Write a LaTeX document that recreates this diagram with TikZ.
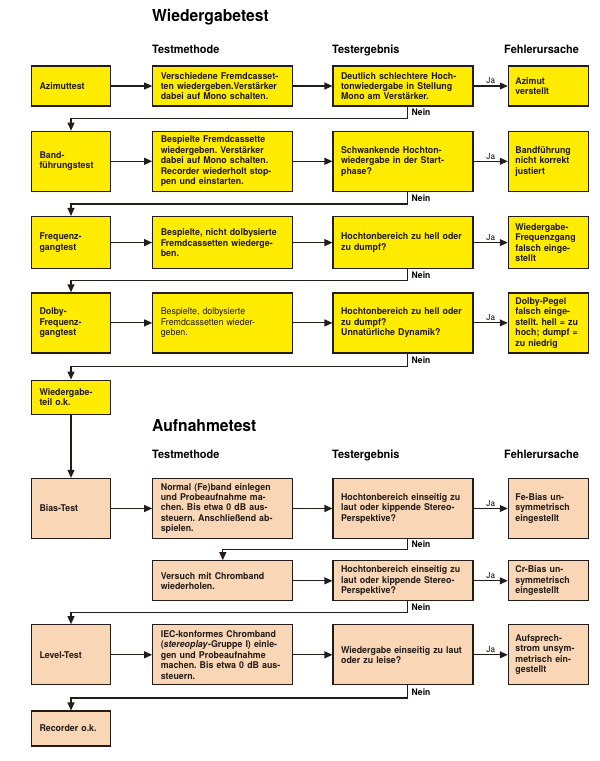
\documentclass[tikz,border=0pt]{standalone}
\usepackage{fontspec}
\setmainfont[FakeStretch=0.95]{TeX Gyre Heros}
\usetikzlibrary{arrows.meta, calc, positioning}
\definecolor{gelb}{RGB}{255,236,0}
\definecolor{pfirsich}{RGB}{248,214,182}
\definecolor{rand}{RGB}{35,28,24}
\frenchspacing
\tikzset {
    box/.style = {
        draw=rand,
        line width=1.3pt,
        shape = rectangle,
        align=left,
        inner xsep=8pt,
        inner ysep=2pt,
        text=rand,
        font={\bfseries\fontsize{9.3}{10.4}\selectfont}
    },
    test/.style = {box, text width=63pt},     % 79 wide
    method/.style = {box, text width=124pt},  % 140 wide
    result/.style = {box, text width=124pt},
    cause/.style = {box, inner xsep=7pt, text width=66pt},    % 80 wide
    wg/.style = {fill=gelb},
    af/.style = {fill=pfirsich},
    titel/.style = {
        anchor=base west,
        inner sep=0pt,
        font={\bfseries\fontsize{16.5}{19}\selectfont}
    },
    kopf/.style = {
        anchor=base west,
        inner sep=0pt,
        font={\bfseries\fontsize{11.5}{13}\selectfont}
    },
    ja/.style = {
        above,
        inner sep=1.5pt,
        font={\fontsize{8.5}{9}\selectfont}
    },
    nein/.style = {
        pos=0.25,
        right,
        inner sep=4pt,
        font={\bfseries\fontsize{9}{10}\selectfont}
    },
    conn/.style = {
        draw=rand,
        line width=1.1pt,
        -{Triangle[length=8pt,width=7pt]}
    }
}

\begin{document}
\begin{tikzpicture}[x=1pt, y=-1pt]
        \useasboundingbox (0,0) rectangle (600,761);

        % Titles and column heads
        \node [titel] at (152,21)                                   (titelwg)  {Wiedergabetest};
        \node [kopf]  at (152,53)                                   (kopf11)   {Testmethode};
        \node [kopf]  at (332,53)                                   (kopf12)   {Testergebnis};
        \node [kopf]  at (504,53)                                   (kopf13)   {Fehlerursache};

        % First row : Azimut
        \node [test, wg, minimum height=40pt] at (71,86)            (azimut)   {Azimuttest};
        \node [method, wg, minimum height=40pt, right=41pt of azimut] (meth1)  {Verschiedene Fremdcasset-\\ten wiedergeben.Verstärker\\dabei auf Mono schalten.};
        \node [result, wg, minimum height=40pt, right=39pt of meth1]  (res1)   {Deutlich schlechtere Hoch-\\tonwiedergabe in Stellung\\Mono am Verstärker.};
        \node [cause, wg, minimum height=40pt, right=34pt of res1]    (cause1) {Azimut\\verstellt};

        % Second row : Bandfuehrung
        \node [test, wg, minimum height=60pt, below=24pt of azimut]   (band)   {Band-\\führungstest};
        \node [method, wg, minimum height=60pt, right=41pt of band]   (meth2)  {Bespielte Fremdcassette\\wiedergeben. Verstärker\\dabei auf Mono schalten.\\Recorder wiederholt stop-\\pen und einstarten.};
        \node [result, wg, minimum height=60pt, right=39pt of meth2]  (res2)   {Schwankende Hochton-\\wiedergabe in der Start-\\phase?};
        \node [cause, wg, minimum height=60pt, right=34pt of res2]    (cause2) {Bandführung\\nicht korrekt\\justiert};

        % Third row : Frequenzgang
        \node [test, wg, minimum height=52pt, below=24pt of band]     (freq)   {Frequenz-\\gangtest};
        \node [method, wg, minimum height=52pt, right=41pt of freq]   (meth3)  {Bespielte, nicht dolbysierte\\Fremdcassetten wiederge-\\ben.};
        \node [result, wg, minimum height=52pt, right=39pt of meth3]  (res3)   {Hochtonbereich zu hell oder\\zu dumpf?};
        \node [cause, wg, minimum height=52pt, right=34pt of res3]    (cause3) {Wiedergabe-\\Frequenzgang\\falsch einge-\\stellt};

        % Fourth row : Dolby
        \node [test, wg, minimum height=60pt, below=23pt of freq]     (dolby)  {Dolby-\\Frequenz-\\gangtest};
        \node [method, wg, minimum height=60pt, right=41pt of dolby]  (meth4)  {\mdseries Bespielte, dolbysierte\\Fremdcassetten wieder-\\geben.};
        \node [result, wg, minimum height=60pt, right=39pt of meth4]  (res4)   {Hochtonbereich zu hell oder\\zu dumpf?\\Unnatürliche Dynamik?};
        \node [cause, wg, minimum height=60pt, right=34pt of res4]    (cause4) {Dolby-Pegel\\falsch einge-\\stellt. hell = zu\\hoch; dumpf =\\zu niedrig};

        \node [test, wg, minimum height=34pt, below=26pt of dolby]    (wok)    {Wiedergabe-\\teil o.k.};

        % Second part : Aufnahme
        \node [titel] at (152,431)                                  (titelaf)  {Aufnahmetest};
        \node [kopf]  at (152,458)                                  (kopf21)   {Testmethode};
        \node [kopf]  at (332,458)                                  (kopf22)   {Testergebnis};
        \node [kopf]  at (504,458)                                  (kopf23)   {Fehlerursache};

        \node [test, af, minimum height=60pt, below=63pt of wok]      (bias)   {Bias-Test};
        \node [method, af, minimum height=60pt, right=41pt of bias]   (meth5)  {Normal (Fe)band einlegen\\und Probeaufnahme ma-\\chen. Bis etwa 0 dB aus-\\steuern. Anschließend ab-\\spielen.};
        \node [result, af, minimum height=60pt, right=39pt of meth5]  (res5)   {Hochtonbereich einseitig zu\\laut oder kippende Stereo-\\Perspektive?};
        \node [cause, af, minimum height=60pt, right=34pt of res5]    (cause5) {Fe-Bias un-\\symmetrisch\\eingestellt};

        \node [method, af, minimum height=40pt, below=21pt of meth5]  (meth6)  {Versuch mit Chromband\\wiederholen.};
        \node [result, af, minimum height=40pt, right=39pt of meth6]  (res6)   {Hochtonbereich einseitig zu\\laut oder kippende Stereo-\\Perspektive?};
        \node [cause, af, minimum height=40pt, right=34pt of res6]    (cause6) {Cr-Bias un-\\symmetrisch\\eingestellt};

        \node [test, af, minimum height=60pt, below=85pt of bias]     (level)  {Level-Test};
        \node [method, af, minimum height=60pt, right=41pt of level]  (meth7)  {IEC-konformes Chromband\\(\textit{stereoplay}-Gruppe I) einle-\\gen und Probeaufnahme\\machen. Bis etwa 0 dB aus-\\steuern.};
        \node [result, af, minimum height=60pt, right=39pt of meth7]  (res7)   {Wiedergabe einseitig zu laut\\oder zu leise?};
        \node [cause, af, minimum height=60pt, right=34pt of res7]    (cause7) {Aufsprech-\\strom unsym-\\metrisch ein-\\gestellt};

        \node [test, af, minimum height=35pt, below=25pt of level]    (rok)    {Recorder o.k.};

        % Connectors
        \path [conn]    (azimut)    --  (meth1);
        \path [conn]    (meth1)     --  (res1);
        \path [conn]    (res1)      --  node [ja] (ja1) {Ja} (cause1);
        \path [conn]    ([xshift=4pt]res1.south) |- node [nein] (nein1) {Nein} ($(res1.south)!.5!(band.north)$) -| (band.north);

        \path [conn]    (band)      --  (meth2);
        \path [conn]    (meth2)     --  (res2);
        \path [conn]    (res2)      --  node [ja] (ja2) {Ja} (cause2);
        \path [conn]    ([xshift=4pt]res2.south) |- node [nein] (nein2) {Nein} ($(res2.south)!.5!(freq.north)$) -| (freq.north);

        \path [conn]    (freq)      --  (meth3);
        \path [conn]    (meth3)     --  (res3);
        \path [conn]    (res3)      --  node [ja] (ja3) {Ja} (cause3);
        \path [conn]    ([xshift=4pt]res3.south) |- node [nein] (nein3) {Nein} ($(res3.south)!.5!(dolby.north)$) -| (dolby.north);

        \path [conn]    (dolby)     --  (meth4);
        \path [conn]    (meth4)     --  (res4);
        \path [conn]    (res4)      --  node [ja] (ja4) {Ja} (cause4);
        \path [conn]    ([xshift=4pt]res4.south) |- node [nein] (nein4) {Nein} ($(res4.south)!.5!(wok.north)$) -| (wok.north);

        \path [conn]    (wok)       --  (bias);

        \path [conn]    (bias)      --  (meth5);
        \path [conn]    (meth5)     --  (res5);
        \path [conn]    (res5)      --  node [ja] (ja5) {Ja} (cause5);
        \path [conn]    ([xshift=4pt]res5.south) |- node [nein] (nein5) {Nein} ($(res5.south)!.5!(meth6.north)$) -| (meth6.north);

        \path [conn]    (meth6)     --  (res6);
        \path [conn]    (res6)      --  node [ja] (ja6) {Ja} (cause6);
        \path [conn]    ([xshift=4pt]res6.south) |- node [nein] (nein6) {Nein} ($(res6.south)!.5!(level.north)$) -| (level.north);

        \path [conn]    (level)     --  (meth7);
        \path [conn]    (meth7)     --  (res7);
        \path [conn]    (res7)      --  node [ja] (ja7) {Ja} (cause7);
        \path [conn]    ([xshift=4pt]res7.south) |- node [nein] (nein7) {Nein} ($(res7.south)!.5!(rok.north)$) -| (rok.north);
    \end{tikzpicture}
\end{document}
